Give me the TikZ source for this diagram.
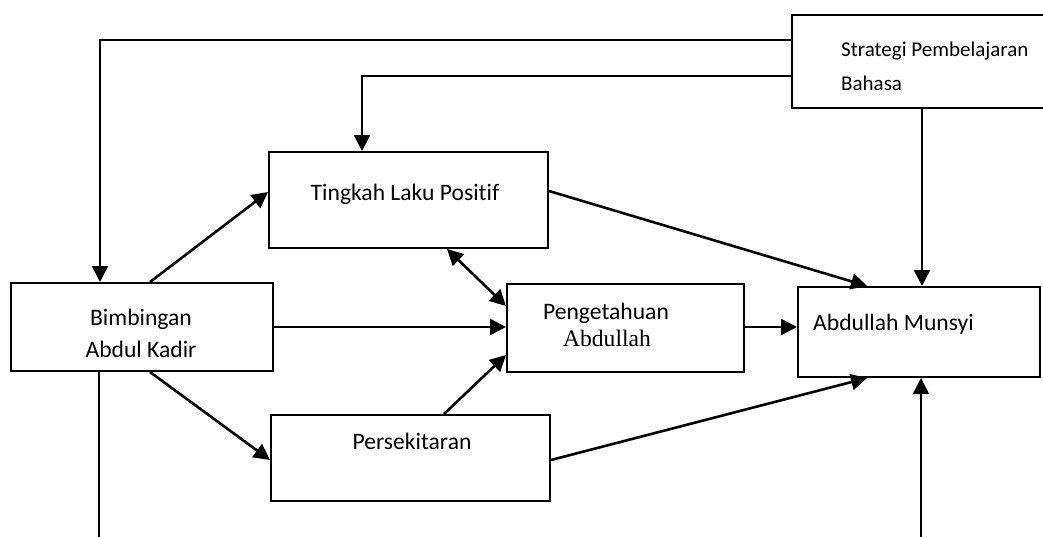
\documentclass[tikz,border=0pt]{standalone}
\usepackage{fontspec}
\setmainfont{Carlito}[Ligatures=NoCommon]
\newfontfamily\serifA{Liberation Serif}
\usetikzlibrary{arrows.meta}
\begin{document}
\begin{tikzpicture}[x=1pt,y=-1pt,
  box/.style={draw, line width=2pt, inner sep=0pt, fill=white},
  txt/.style={inner sep=0pt, font=\fontsize{23.6}{28}\selectfont},
  stxt/.style={inner sep=0pt, font=\fontsize{21}{25}\selectfont, anchor=base west},
  conn/.style={line width=2.6pt},
  tip/.style={Triangle[length=16pt,width=16pt]},
  arr/.style={conn, -{Triangle[length=16pt,width=16pt]}},
  darr/.style={conn, {Triangle[length=16pt,width=16pt]}-{Triangle[length=16pt,width=16pt]}},
  thin/.style={line width=1.6pt}
]
\useasboundingbox (0,0) rectangle (1043,536);
% boxes
\node[box, minimum width=260pt, minimum height=93pt] (sp) at (922,61.5) {};
\node[box, minimum width=279pt, minimum height=96pt] (tlp) at (408.5,200) {};
\node[box, minimum width=262pt, minimum height=88pt] (bim) at (142,327) {};
\node[box, minimum width=237pt, minimum height=88pt] (pa) at (625.5,328) {};
\node[box, minimum width=242pt, minimum height=90pt] (am) at (919,332) {};
\node[box, minimum width=279pt, minimum height=86pt] (per) at (410.5,458) {};
% texts
\node[stxt] (spt1) at (841,56) {Strategi Pembelajaran};
\node[stxt] (spt2) at (841,90) {Bahasa};
\node[txt, anchor=base] (tlpt) at (405,200) {Tingkah Laku Positif};
\node[txt, anchor=base] (bimt1) at (141,325) {Bimbingan};
\node[txt, anchor=base] (bimt2) at (141,357) {Abdul Kadir};
\node[txt, anchor=base] (pat1) at (606,319) {Pengetahuan};
\node[txt, anchor=base, font=\fontsize{23.6}{28}\selectfont\serifA] (pat2) at (607,346) {Abdullah};
\node[txt, anchor=base west] (amt) at (813,330) {Abdullah Munsyi};
\node[txt, anchor=base] (pert) at (412,449) {Persekitaran};
% free ends
\coordinate (bl) at (99,545);
\coordinate (br) at (921,545);
% connectors
\draw[arr] (sp.west |- 0,40) -| (bim.north -| 100,0);
\draw[arr] (sp.west |- 0,76) -| (tlp.north -| 362,0);
\draw[arr] (sp.south -| 922,0) -- (am.north -| 922,0);
\draw[thin] (bim.south -| bl) -- (bl);
\draw[thin, -{Triangle[length=16pt,width=16pt]}] (br) -- (am.south -| br);
\draw[arr] (bim.north -| 150,0) -- (tlp.west |- 0,192);
\draw[arr] (bim.east |- 0,327) -- (pa.west |- 0,327);
\draw[arr] (bim.south -| 150,0) -- (per.west |- 0,460);
\draw[darr] (tlp.south -| 447,0) -- (pa.west |- 0,306);
\draw[arr] (per.north -| 444,0) -- (pa.west |- 0,355);
\draw[arr] (pa.east |- 0,327) -- (am.west |- 0,327);
\draw[arr] (tlp.east |- 0,191) -- (am.north -| 867,0);
\draw[arr] (per.east |- 0,460) -- (am.south -| 867,0);
\end{tikzpicture}
\end{document}
